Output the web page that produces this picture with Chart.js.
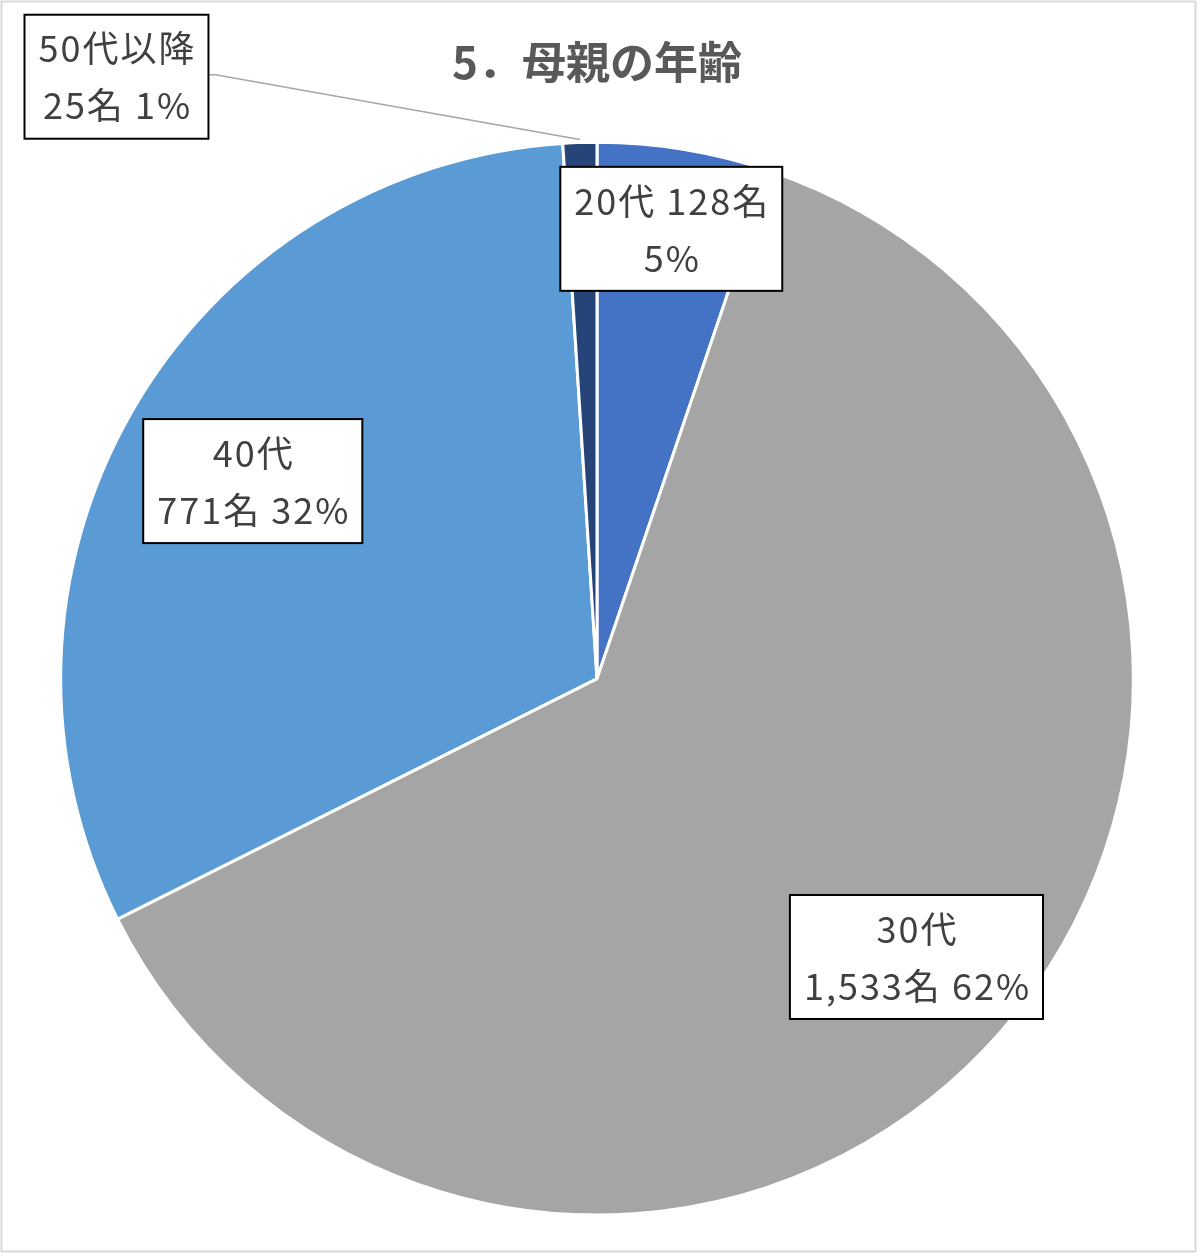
<!DOCTYPE html>
<html lang="ja">
<head>
<meta charset="utf-8">
<title>5．母親の年齢</title>
<script src="https://cdn.jsdelivr.net/npm/chart.js@4.4.1/dist/chart.umd.min.js"></script>
<style>
  html, body { margin: 0; padding: 0; background: #fff; overflow: hidden; }
  #wrap { width: 1200px; height: 1257px; }
</style>
</head>
<body>
<div id="wrap"><canvas id="ageChart" width="1200" height="1257"></canvas></div>
<script>
// データ
const ageLabels = ['20代', '30代', '40代', '50代以降'];
const ageCounts = [128, 1533, 771, 25];
const agePercents = [5, 62, 32, 1];
const sliceColors = ['#4472C4', '#A5A5A5', '#5B9BD5', '#264478'];

// ラベル枠の位置: angle = 上からの時計回り角度（null ならスライスの中央）, dist = 半径に対する比
const labelPlace = [
  { angle: null, dist: 0.85, nameWithCount: true },
  { angle: null, dist: 0.79, nameWithCount: false },
  { angle: null, dist: 0.74, nameWithCount: false },
  { angle: 321.4, dist: 1.436, nameWithCount: false, leader: true }
];

const labelFont = '36px "Noto Sans CJK JP", "Noto Sans", sans-serif';
const labelColor = '#404040';

function labelLines(i) {
  const name = ageLabels[i];
  const count = ageCounts[i].toLocaleString('en-US') + '名';
  const pct = agePercents[i] + '%';
  if (labelPlace[i].nameWithCount) {
    return [name + ' ' + count, pct];
  }
  return [name, count + ' ' + pct];
}

// 外枠
const frame = {
  id: 'frame',
  beforeDraw(chart) {
    const ctx = chart.ctx;
    ctx.save();
    ctx.fillStyle = '#ffffff';
    ctx.fillRect(0, 0, chart.width, chart.height);
    ctx.strokeStyle = '#D9D9D9';
    ctx.lineWidth = 2;
    ctx.strokeRect(1.5, 1.5, chart.width - 6, chart.height - 7);
    ctx.restore();
  }
};

// 枠付きデータラベル
const boxLabels = {
  id: 'boxLabels',
  afterDatasetsDraw(chart) {
    const ctx = chart.ctx;
    const meta = chart.getDatasetMeta(0);
    ctx.save();
    ctx.font = labelFont;
    ctx.letterSpacing = '2px';
    ctx.textAlign = 'center';
    ctx.textBaseline = 'middle';
    meta.data.forEach(function(arc, i) {
      const p = arc.getProps(['x', 'y', 'startAngle', 'endAngle', 'outerRadius'], true);
      const mid = (p.startAngle + p.endAngle) / 2;
      const place = labelPlace[i];
      const ang = place.angle === null ? mid : place.angle * Math.PI / 180 - Math.PI / 2;
      const cx = p.x + Math.cos(ang) * p.outerRadius * place.dist;
      const cy = p.y + Math.sin(ang) * p.outerRadius * place.dist;
      const lines = labelLines(i);
      const textW = Math.max.apply(null, lines.map(function(t) { return ctx.measureText(t).width; }));
      const w = textW + 26;
      const h = 124;

      // 引き出し線
      if (place.leader) {
        const sx = cx + w / 2;
        const sy = cy - 2;
        ctx.strokeStyle = '#A6A6A6';
        ctx.lineWidth = 1.5;
        ctx.beginPath();
        ctx.moveTo(sx, sy);
        ctx.lineTo(sx + 7, sy);
        ctx.lineTo(p.x + Math.cos(mid) * (p.outerRadius + 3), p.y + Math.sin(mid) * (p.outerRadius + 3));
        ctx.stroke();
      }

      ctx.fillStyle = '#ffffff';
      ctx.fillRect(cx - w / 2, cy - h / 2, w, h);
      ctx.strokeStyle = '#000000';
      ctx.lineWidth = 2;
      ctx.strokeRect(cx - w / 2, cy - h / 2, w, h);

      ctx.fillStyle = labelColor;
      ctx.fillText(lines[0], cx + 1, cy - 28);
      ctx.fillText(lines[1], cx + 1, cy + 29);
    });
    ctx.restore();
  }
};

const config = {
  type: 'pie',
  data: {
    labels: ageLabels,
    datasets: [{
      data: ageCounts,
      backgroundColor: sliceColors,
      borderColor: '#ffffff',
      borderWidth: 3
    }]
  },
  options: {
    responsive: false,
    animation: false,
    devicePixelRatio: 1,
    layout: {
      padding: { left: 58.5, right: 64.5, top: 10, bottom: 40.5 }
    },
    plugins: {
      legend: { display: false },
      tooltip: { enabled: false },
      title: {
        display: true,
        text: '5．母親の年齢',
        color: '#595959',
        font: { family: '"Noto Sans CJK JP", "Noto Sans", sans-serif', size: 44, weight: 'bold' },
        padding: { top: 26, bottom: 52 }
      }
    }
  },
  plugins: [frame, boxLabels]
};

const ageChart = new Chart(document.getElementById('ageChart'), config);
</script>
</body>
</html>
